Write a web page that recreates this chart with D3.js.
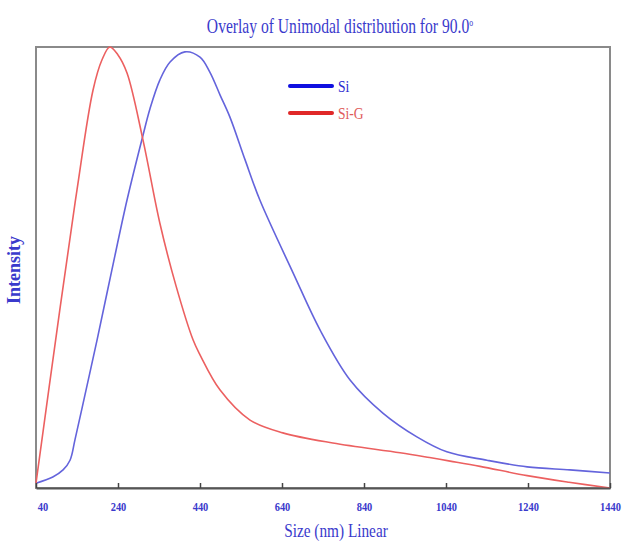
<html>
<head>
<script src="https://d3js.org/d3.v7.min.js"></script>
<style>
  body { margin: 0; background: #fff; }
  text { font-family: "Liberation Serif", "DejaVu Serif", serif; }
</style>
</head>
<body>
<svg width="625" height="541" id="chart"></svg>
<script>
// size in nm, intensity in % of max
siSize = [40, 81, 106, 123, 135, 162, 189, 225, 262, 301, 318, 342, 367, 403, 440, 464, 489, 513, 550, 586, 667, 733, 806, 886, 969, 1042, 1140, 1238, 1342, 1440];
siIntensity = [1.1, 2.5, 4.1, 6.3, 10.9, 22.2, 33.6, 49.4, 65.3, 80.0, 86.0, 92.5, 96.6, 98.9, 97.7, 94.3, 89.1, 84.1, 74.4, 65.3, 48.8, 35.8, 24.5, 17.0, 11.6, 8.2, 6.3, 4.8, 4.1, 3.4];

sigSize = [40, 99, 140, 179, 201, 220, 240, 262, 301, 342, 381, 423, 440, 489, 562, 642, 764, 928, 1000, 1050, 1123, 1238, 1340, 1440];
sigIntensity = [1.1, 41.0, 67.6, 90.2, 97.1, 100, 98.2, 94.1, 78.9, 60.1, 46.0, 33.6, 30.2, 22.2, 15.4, 12.5, 10.2, 8.0, 6.9, 6.1, 4.9, 2.8, 1.3, 0];

xTicks = [40, 240, 440, 640, 840, 1040, 1240, 1440];

plotL = 36; plotR = 610; plotT = 47; plotB = 488;
blueText = "#3a3acc";

svg = d3.select("#chart");

x = d3.scaleLinear().domain([40, 1440]).range([plotL, plotR]);
y = d3.scaleLinear().domain([0, 100]).range([plotB, plotT]);

series = [
  { name: "Si", size: siSize, val: siIntensity, color: "#6464dc", key: "#1010e0", text: "#2a2ad0" },
  { name: "Si-G", size: sigSize, val: sigIntensity, color: "#ec6060", key: "#e02828", text: "#e05a5a" }
];

// frame
svg.append("rect")
  .attr("x", plotL).attr("y", plotT)
  .attr("width", plotR - plotL).attr("height", plotB - plotT)
  .attr("fill", "none")
  .attr("stroke", "#8a8a8a")
  .attr("stroke-width", 2);

lineGen = d3.line()
  .x(d => x(d[0]))
  .y(d => Math.min(plotB, y(d[1])))
  .curve(d3.curveCatmullRom.alpha(0.5));

series.forEach(s => {
  svg.append("path")
    .datum(d3.zip(s.size, s.val))
    .attr("fill", "none")
    .attr("stroke", s.color)
    .attr("stroke-width", 1.6)
    .attr("d", lineGen);
});

// x axis, ticks pointing inward
xAxis = svg.append("g")
  .attr("transform", "translate(0," + plotB + ")")
  .call(d3.axisBottom(x).tickValues(xTicks).tickFormat(d3.format("d"))
    .tickSizeInner(-5).tickSizeOuter(0).tickPadding(14));
xAxis.select(".domain").attr("stroke", "#555").attr("stroke-width", 2);
xAxis.selectAll(".tick line").attr("stroke", "#444").attr("stroke-width", 1.5);
xAxis.selectAll(".tick text")
  .attr("fill", blueText)
  .attr("font-size", 13)
  .attr("font-weight", "bold")
  .attr("font-family", "Liberation Serif")
  .attr("transform", "scale(0.8,1)");
xAxis.select(".tick text").attr("dx", 8);

// title
svg.append("text")
  .attr("transform", "translate(340,33) scale(0.78,1)")
  .attr("text-anchor", "middle")
  .attr("fill", blueText)
  .attr("font-size", 20)
  .html("Overlay of Unimodal distribution for 90.0<tspan font-size='10' dy='-7'>o</tspan>");

// axis titles
svg.append("text")
  .attr("transform", "translate(336,537) scale(0.85,1)")
  .attr("text-anchor", "middle")
  .attr("fill", blueText)
  .attr("font-size", 18)
  .text("Size (nm) Linear");

svg.append("text")
  .attr("transform", "translate(20,270) rotate(-90)")
  .attr("text-anchor", "middle")
  .attr("fill", blueText)
  .attr("font-size", 18)
  .attr("font-weight", "bold")
  .text("Intensity");

// legend
legend = svg.append("g");
series.forEach((s, i) => {
  ly = 86 + i * 27;
  legend.append("line")
    .attr("x1", 290).attr("x2", 332)
    .attr("y1", ly).attr("y2", ly)
    .attr("stroke", s.key)
    .attr("stroke-width", 4)
    .attr("stroke-linecap", "round");
  legend.append("text")
    .attr("transform", "translate(338," + (ly + 6) + ") scale(0.8,1)")
    .attr("fill", s.text)
    .attr("font-size", 17)
    .text(s.name);
});
</script>
</body>
</html>
